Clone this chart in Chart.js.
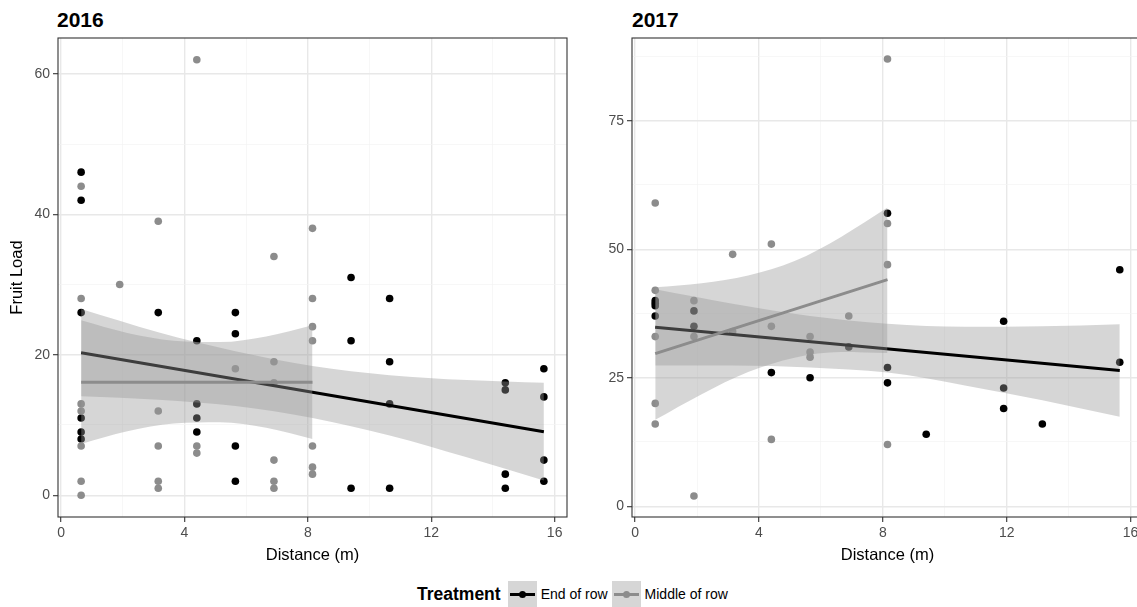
<!DOCTYPE html>
<html>
<head>
<meta charset="utf-8">
<script src="https://cdn.jsdelivr.net/npm/chart.js@4.4.1/dist/chart.umd.min.js"></script>
<style>
    body { margin: 0; width: 1137px; height: 607px; overflow: hidden; background: #fff; position: relative;
           font-family: 'Liberation Sans', Arial, sans-serif; color: #000; }
    canvas { position: absolute; top: 0; }
    #c2016 { left: 0; }
    #c2017 { left: 575px; }
    .title { position: absolute; top: 9px; font-weight: bold; font-size: 21px; line-height: 21px; }
    #legend { position: absolute; left: 417px; top: 581px; height: 26px; display: flex; align-items: center; white-space: nowrap; }
    .ltitle { font-weight: bold; font-size: 17.5px; margin-right: 7px; }
    .key { position: relative; width: 29px; height: 26px; background: #d6d6d6; margin-right: 4px; }
    .kl { position: absolute; left: 2px; right: 2px; top: 11.5px; height: 3px; }
    .kd { position: absolute; left: 11px; top: 9.5px; width: 7px; height: 7px; border-radius: 50%; }
    .ltext { font-size: 14px; margin-right: 4px; }
</style>
</head>
<body>
<div class="title" style="left:57px">2016</div>
<div class="title" style="left:632px">2017</div>
<canvas id="c2016" width="575" height="575"></canvas>
<canvas id="c2017" width="575" height="575"></canvas>
<div id="legend">
    <span class="ltitle">Treatment</span>
    <span class="key"><i class="kl" style="background:#000"></i><i class="kd" style="background:#000"></i></span>
    <span class="ltext">End of row</span>
    <span class="key"><i class="kl" style="background:#8c8c8c"></i><i class="kd" style="background:#8c8c8c"></i></span>
    <span class="ltext">Middle of row</span>
</div>
<script>
// 2016 points
const end16X = [0.65, 0.65, 0.65, 0.65, 0.65, 0.65, 3.15, 4.4, 4.4, 4.4, 4.4, 5.65, 5.65, 5.65, 5.65,
    9.4, 9.4, 9.4, 10.65, 10.65, 10.65, 10.65, 14.4, 14.4, 14.4, 14.4, 15.65, 15.65, 15.65, 15.65];
const end16Y = [46, 42, 26, 11, 9, 8, 26, 22, 13, 11, 9, 26, 23, 7, 2,
    31, 22, 1, 28, 19, 13, 1, 16, 15, 3, 1, 18, 14, 5, 2];
const mid16X = [0.65, 0.65, 0.65, 0.65, 0.65, 0.65, 0.65, 1.9, 3.15, 3.15, 3.15, 3.15, 3.15,
    4.4, 4.4, 4.4, 5.65, 6.9, 6.9, 6.9, 6.9, 6.9, 6.9, 8.15, 8.15, 8.15, 8.15, 8.15, 8.15, 8.15];
const mid16Y = [44, 28, 13, 12, 7, 2, 0, 30, 39, 12, 7, 2, 1,
    62, 7, 6, 18, 34, 19, 16, 5, 2, 1, 38, 28, 24, 22, 7, 4, 3];

// 2016 fits and bands
const fitEnd16X = [0.65, 15.65];
const fitEnd16Y = [20.3, 9.05];
const fitMid16X = [0.65, 8.15];
const fitMid16Y = [16.1, 16.1];
const bandEnd16X = [0.65, 3.15, 5.65, 8.15, 10.65, 13.15, 15.65];
const bandEnd16Hi = [26.5, 23.2, 20.5, 18.4, 17.1, 16.4, 16.0];
const bandEnd16Lo = [14.1, 13.6, 12.7, 11.0, 8.5, 5.4, 2.1];
const bandMid16X = [0.65, 2.15, 3.65, 5.15, 6.65, 8.15];
const bandMid16Hi = [24.9, 23.1, 22.0, 21.8, 22.6, 24.2];
const bandMid16Lo = [7.3, 9.1, 10.2, 10.4, 9.6, 8.0];

// 2017 points
const end17X = [0.65, 0.65, 0.65, 0.65, 1.9, 1.9, 4.4, 5.65, 6.9, 8.15, 8.15, 8.15,
    9.4, 11.9, 11.9, 11.9, 13.15, 15.65, 15.65];
const end17Y = [40, 39.5, 39, 37, 38, 35, 26, 25, 31, 57, 27, 24,
    14, 36, 23, 19, 16, 46, 28];
const mid17X = [0.65, 0.65, 0.65, 0.65, 0.65, 1.9, 1.9, 1.9, 3.15, 3.15, 4.4, 4.4, 4.4,
    5.65, 5.65, 5.65, 6.9, 8.15, 8.15, 8.15, 8.15];
const mid17Y = [59, 42, 33, 20, 16, 40, 33, 2, 49, 34, 51, 35, 13,
    33, 30, 29, 37, 87, 55, 47, 12];

// 2017 fits and bands
const fitEnd17X = [0.65, 15.65];
const fitEnd17Y = [34.8, 26.4];
const fitMid17X = [0.65, 8.15];
const fitMid17Y = [29.7, 44.1];
const bandEnd17X = [0.65, 3.15, 5.65, 8.15, 10.65, 13.15, 15.65];
const bandEnd17Hi = [42.2, 39.4, 37.0, 35.5, 34.9, 35.0, 35.4];
const bandEnd17Lo = [27.4, 27.4, 27.0, 26.0, 23.5, 20.6, 17.4];
const bandMid17X = [0.65, 2.15, 3.65, 5.15, 6.65, 8.15];
const bandMid17Hi = [42.6, 43.4, 44.9, 47.7, 52.4, 58.1];
const bandMid17Lo = [16.8, 21.8, 26.1, 28.9, 30.0, 29.8];

// axis ticks
const xMajor = [0, 4, 8, 12, 16];
const xAll = [0, 2, 4, 6, 8, 10, 12, 14, 16];
const y16Major = [0, 20, 40, 60];
const y16All = [0, 10, 20, 30, 40, 50, 60];
const y17Major = [0, 25, 50, 75];
const y17All = [0, 12.5, 25, 37.5, 50, 62.5, 75, 87.5];

const END_COL = '#000000';
const MID_COL = '#8c8c8c';
const RIBBON = 'rgba(153,153,153,0.4)';

Chart.defaults.font.family = "'Liberation Sans', Arial, sans-serif";

const toPoints = (xs, ys) => xs.map((x, i) => ({ x: x, y: ys[i] }));

const panelBorder = {
    id: 'panelBorder',
    afterDatasetsDraw(chart) {
        const { ctx, chartArea: a } = chart;
        ctx.save();
        ctx.strokeStyle = '#333333';
        ctx.lineWidth = 1.1;
        ctx.strokeRect(a.left, a.top, a.right - a.left, a.bottom - a.top);
        ctx.restore();
    }
};

const pointSet = (xs, ys, color, order) => ({
    data: toPoints(xs, ys), showLine: false, pointRadius: 3.8, pointBorderWidth: 0,
    pointBackgroundColor: color, pointHoverRadius: 0, order: order
});
const lineSet = (xs, ys, color, order) => ({
    data: toPoints(xs, ys), borderColor: color, borderWidth: 3, pointRadius: 0, fill: false, order: order
});
const bandSet = (xs, ys, fill, order) => ({
    data: toPoints(xs, ys), borderColor: 'rgba(0,0,0,0)', borderWidth: 0, pointRadius: 0,
    cubicInterpolationMode: 'monotone', fill: fill, backgroundColor: RIBBON, order: order
});

const gridFor = (major) => ({
    color: c => major.includes(c.tick.value) ? '#e8e8e8' : '#f3f3f3',
    lineWidth: c => major.includes(c.tick.value) ? 1.4 : 0.7,
    tickColor: c => major.includes(c.tick.value) ? '#333333' : 'rgba(0,0,0,0)',
    tickLength: 5,
    tickWidth: 1.1
});

const SetPanel = (p) => ({
    type: 'line',
    data: {
        datasets: [
            pointSet(p.endX, p.endY, END_COL, 10),
            pointSet(p.midX, p.midY, MID_COL, 9),
            bandSet(p.bandEndX, p.bandEndHi, false, 8),
            bandSet(p.bandEndX, p.bandEndLo, '-1', 7),
            lineSet(p.fitEndX, p.fitEndY, END_COL, 6),
            bandSet(p.bandMidX, p.bandMidHi, false, 5),
            bandSet(p.bandMidX, p.bandMidLo, '-1', 4),
            lineSet(p.fitMidX, p.fitMidY, MID_COL, 3)
        ]
    },
    options: {
        responsive: false,
        animation: false,
        events: [],
        layout: { padding: { top: 38, right: p.padRight, left: 0, bottom: 0 } },
        plugins: { legend: { display: false }, tooltip: { enabled: false } },
        scales: {
            x: {
                type: 'linear', min: -0.1, max: 16.4,
                afterBuildTicks: s => { s.ticks = xAll.map(v => ({ value: v })); },
                afterFit: s => { s.height = 58; },
                border: { display: false },
                grid: gridFor(xMajor),
                ticks: { autoSkip: false, maxRotation: 0, color: '#4d4d4d', font: { size: 14 }, padding: 3,
                    callback: v => xMajor.includes(v) ? String(v) : '' },
                title: { display: true, text: 'Distance (m)', color: '#000', font: { size: 16.5 },
                    padding: { top: 0, bottom: 10 } }
            },
            y: {
                type: 'linear', min: p.yMin, max: p.yMax,
                afterBuildTicks: s => { s.ticks = p.yAll.map(v => ({ value: v })); },
                afterFit: s => { s.width = p.yWidth; },
                border: { display: false },
                grid: gridFor(p.yMajor),
                ticks: { autoSkip: false, color: '#4d4d4d', font: { size: 14 }, padding: 3,
                    callback: v => p.yMajor.includes(v) ? String(v) : '' },
                title: { display: p.yTitle, text: 'Fruit Load', color: '#000', font: { size: 16.5 },
                    padding: { top: 8, bottom: 0 } }
            }
        }
    },
    plugins: [panelBorder]
});

const chart2016 = new Chart(document.getElementById('c2016'), SetPanel({
    endX: end16X, endY: end16Y, midX: mid16X, midY: mid16Y,
    fitEndX: fitEnd16X, fitEndY: fitEnd16Y, fitMidX: fitMid16X, fitMidY: fitMid16Y,
    bandEndX: bandEnd16X, bandEndHi: bandEnd16Hi, bandEndLo: bandEnd16Lo,
    bandMidX: bandMid16X, bandMidHi: bandMid16Hi, bandMidLo: bandMid16Lo,
    yMin: -3.1, yMax: 65.1, yMajor: y16Major, yAll: y16All, yWidth: 58, yTitle: true, padRight: 8
}));

const chart2017 = new Chart(document.getElementById('c2017'), SetPanel({
    endX: end17X, endY: end17Y, midX: mid17X, midY: mid17Y,
    fitEndX: fitEnd17X, fitEndY: fitEnd17Y, fitMidX: fitMid17X, fitMidY: fitMid17Y,
    bandEndX: bandEnd17X, bandEndHi: bandEnd17Hi, bandEndLo: bandEnd17Lo,
    bandMidX: bandMid17X, bandMidHi: bandMid17Hi, bandMidLo: bandMid17Lo,
    yMin: -2.1, yMax: 91.1, yMajor: y17Major, yAll: y17All, yWidth: 57, yTitle: false, padRight: 7
}));
</script>
</body>
</html>
